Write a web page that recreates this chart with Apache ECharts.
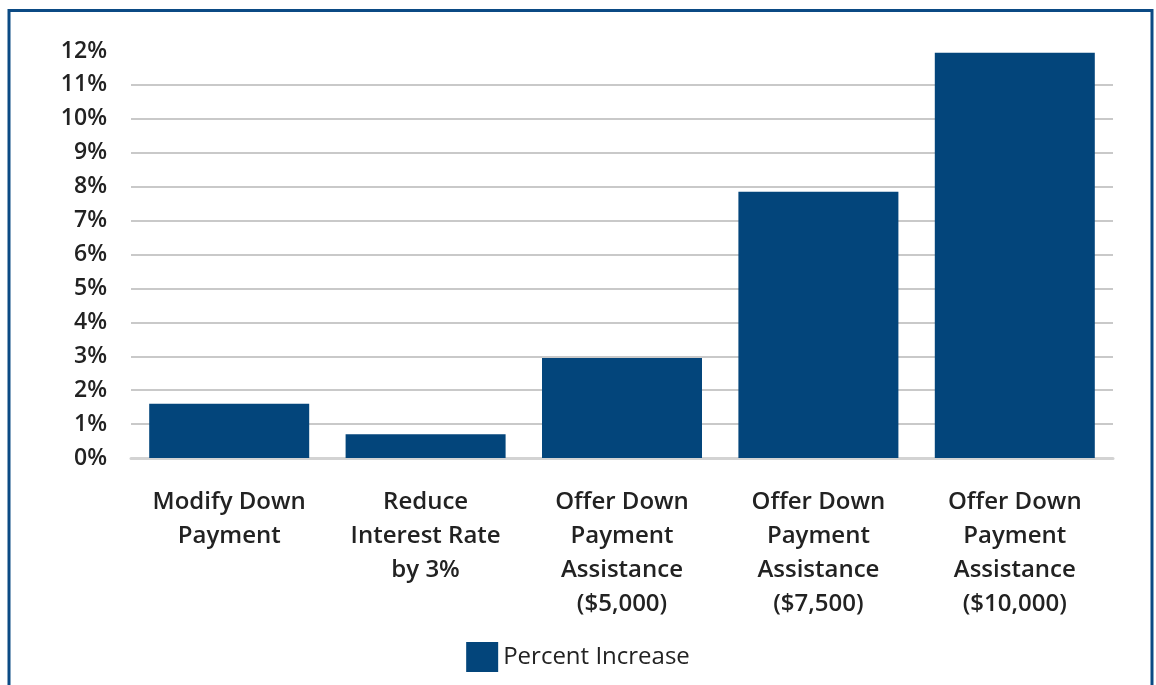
<!DOCTYPE html>
<html>
<head>
<meta charset="utf-8">
<script src="https://cdn.jsdelivr.net/npm/echarts@6/dist/echarts.min.js"></script>
<style>html,body{margin:0;padding:0;background:#fff}#c{width:1156px;height:685px}</style>
</head>
<body>
<div id="c"></div>
<script>
const categories = [
  "Modify Down\nPayment",
  "Reduce\nInterest Rate\nby 3%",
  "Offer Down\nPayment\nAssistance\n($5,000)",
  "Offer Down\nPayment\nAssistance\n($7,500)",
  "Offer Down\nPayment\nAssistance\n($10,000)"
];
const seriesName = "Percent Increase";
const percentIncrease = [1.6, 0.7, 2.95, 7.85, 11.95];
const yMin = 0, yMax = 12, yStep = 1;

const chart = echarts.init(document.getElementById('c'), null, {renderer: 'canvas'});
const gridColors = [];
for (let i = 0; i < 12; i++) gridColors.push('#c9c9c9');
gridColors.push('rgba(0,0,0,0)');
const FONT = '"Open Sans", sans-serif';
chart.setOption({
  animation: false,
  backgroundColor: '#ffffff',
  graphic: [{
    type: 'rect',
    shape: {x: 9, y: 10.5, width: 1143, height: 800},
    style: {fill: 'none', stroke: '#0b4a84', lineWidth: 3},
    silent: true, z: 100
  }],
  grid: {left: 131, right: 43, top: 51, bottom: 227, containLabel: false},
  legend: {
    data: [seriesName],
    top: 637,
    left: 'center',
    itemWidth: 32, itemHeight: 30, itemGap: 10,
    icon: 'rect',
    textStyle: {fontFamily: FONT, fontSize: 24, color: '#222', padding: [0,0,0,0]}
  },
  xAxis: {
    type: 'category',
    data: categories,
    axisTick: {show: false},
    axisLine: {show: true, lineStyle: {color: '#d3d3d3', width: 3}},
    axisLabel: {
      interval: 0, margin: 27,
      fontFamily: FONT, fontSize: 24, fontWeight: 600, color: '#222', lineHeight: 34
    }
  },
  yAxis: {
    type: 'value', min: yMin, max: yMax, interval: yStep,
    axisLine: {show: false}, axisTick: {show: false},
    splitLine: {show: true, lineStyle: {color: gridColors, width: 2}},
    axisLabel: {
      margin: 24, formatter: '{value}%',
      fontFamily: FONT, fontSize: 23, fontWeight: 600, color: '#222'
    }
  },
  series: [{
    name: seriesName,
    type: 'bar',
    data: percentIncrease,
    barWidth: 160,
    itemStyle: {color: '#03457b'}
  }]
});
</script>
</body>
</html>
